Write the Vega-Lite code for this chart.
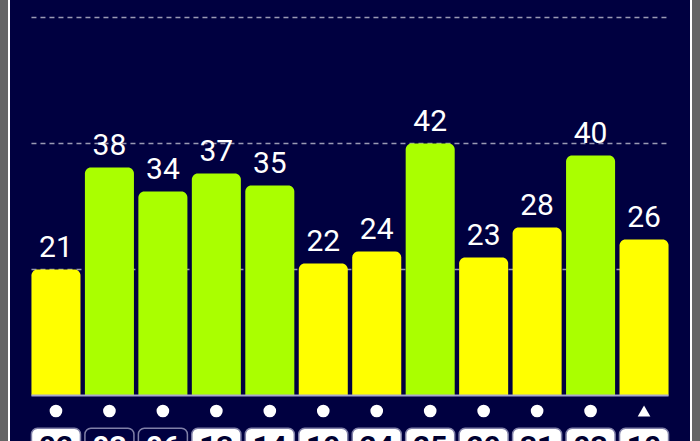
{
  "$schema": "https://vega.github.io/schema/vega-lite/v6.json",
  "width": 682,
  "height": 443,
  "autosize": {"type": "none"},
  "padding": {"left": 9, "right": 9, "top": -1, "bottom": 0},
  "background": "#666666",
  "config": {
    "view": {"fill": "#000040", "stroke": "#ffffff", "strokeWidth": 2},
    "font": "Roboto"
  },
  "datasets": {
    "grid": [{"g": 21}, {"g": 42}, {"g": 63}]
  },
  "data": {
    "values": [
      {"i": 1, "d": "02", "v": 21, "sym": "circle", "hl": false},
      {"i": 2, "d": "03", "v": 38, "sym": "circle", "hl": true},
      {"i": 3, "d": "06", "v": 34, "sym": "circle", "hl": true},
      {"i": 4, "d": "13", "v": 37, "sym": "circle", "hl": false},
      {"i": 5, "d": "14", "v": 35, "sym": "circle", "hl": false},
      {"i": 6, "d": "19", "v": 22, "sym": "circle", "hl": false},
      {"i": 7, "d": "24", "v": 24, "sym": "circle", "hl": false},
      {"i": 8, "d": "25", "v": 42, "sym": "circle", "hl": false},
      {"i": 9, "d": "29", "v": 23, "sym": "circle", "hl": false},
      {"i": 10, "d": "31", "v": 28, "sym": "circle", "hl": false},
      {"i": 11, "d": "03", "v": 40, "sym": "circle", "hl": false},
      {"i": 12, "d": "10", "v": 26, "sym": "triangle-up", "hl": false}
    ]
  },
  "encoding": {
    "x": {
      "field": "i",
      "type": "ordinal",
      "axis": null,
      "scale": {"domain": [1, 2, 3, 4, 5, 6, 7, 8, 9, 10, 11, 12], "paddingInner": 0.083, "paddingOuter": 0.42}
    }
  },
  "layer": [
    {
      "data": {"name": "grid"},
      "mark": {"type": "rule", "color": "#9a9ab4", "strokeDash": [5, 4], "strokeWidth": 1.5},
      "encoding": {
        "x": {"datum": 1, "bandPosition": 0},
        "x2": {"datum": 12, "bandPosition": 1},
        "y": {
          "field": "g",
          "type": "quantitative",
          "axis": null,
          "scale": {"domain": [-7.75, 66.08], "nice": false, "zero": false}
        }
      }
    },
    {
      "mark": {"type": "bar", "cornerRadiusTopLeft": 6, "cornerRadiusTopRight": 6},
      "encoding": {
        "y": {"field": "v", "type": "quantitative"},
        "y2": {"datum": 0},
        "color": {"condition": {"test": "datum.v >= 30", "value": "#aaff00"}, "value": "#ffff00"}
      }
    },
    {
      "data": {"values": [{"b": 0}]},
      "mark": {"type": "rule", "color": "#a8a8cc", "strokeWidth": 2},
      "encoding": {
        "x": {"datum": 1, "bandPosition": 0},
        "x2": {"datum": 12, "bandPosition": 1},
        "y": {"field": "b", "type": "quantitative"}
      }
    },
    {
      "mark": {"type": "text", "fontSize": 30, "color": "#ffffff", "baseline": "alphabetic", "dy": -12},
      "encoding": {
        "y": {"field": "v", "type": "quantitative"},
        "text": {"field": "v", "type": "quantitative"}
      }
    },
    {
      "mark": {"type": "point", "filled": true, "size": 160, "color": "#ffffff", "opacity": 1},
      "encoding": {
        "y": {"datum": -2.58},
        "shape": {"field": "sym", "type": "nominal", "scale": null}
      }
    },
    {
      "mark": {"type": "bar", "cornerRadius": 6, "stroke": "#8080a8", "strokeWidth": 1.5},
      "encoding": {
        "y": {"datum": -5.45},
        "y2": {"datum": -12},
        "fill": {"condition": {"test": "datum.hl", "value": "#000040"}, "value": "#ffffff"}
      }
    },
    {
      "mark": {"type": "text", "fontSize": 30, "fontWeight": "bold", "baseline": "alphabetic"},
      "encoding": {
        "y": {"datum": -10.3},
        "text": {"field": "d", "type": "nominal"},
        "color": {"condition": {"test": "datum.hl", "value": "#ffffff"}, "value": "#000030"}
      }
    }
  ]
}
